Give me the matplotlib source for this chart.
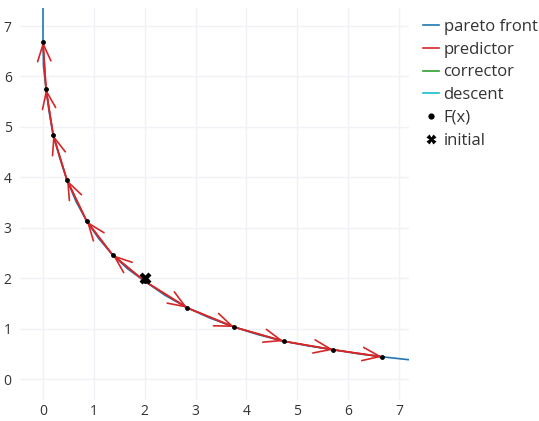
"""Predictor-corrector continuation along a Pareto front (plotly-like look)."""

import matplotlib
matplotlib.use("Agg")
import matplotlib.pyplot as plt

plt.rcParams["font.family"] = ["Open Sans", "DejaVu Sans"]

BLUE = "#1f77b4"
RED = "#d62728"
GREEN = "#2ca02c"
CYAN = "#17becf"
GRID = "#f0f2f7"
TEXT = "#333333"

# Pareto front
front_x = [0.0, 0.0, 0.01, 0.06, 0.12, 0.2, 0.33, 0.47, 0.65, 0.86, 1.1,
           1.37, 1.67, 2.0, 2.4, 2.84, 3.28, 3.76, 4.23, 4.73, 5.2, 5.71,
           6.2, 6.67, 7.4]
front_y = [8.0, 6.69, 6.2, 5.75, 5.3, 4.84, 4.38, 3.95, 3.52, 3.13, 2.78,
           2.46, 2.18, 1.94, 1.66, 1.41, 1.21, 1.03, 0.88, 0.75, 0.66, 0.58,
           0.5, 0.44, 0.36]

# F(x) iterates, walking up-left and down-right from the start
up_x = [2.0, 1.37, 0.86, 0.47, 0.2, 0.06, 0.0]
up_y = [1.94, 2.46, 3.13, 3.95, 4.84, 5.75, 6.69]
down_x = [2.0, 2.84, 3.76, 4.73, 5.71, 6.67]
down_y = [1.94, 1.41, 1.03, 0.75, 0.58, 0.44]

init_x = [2.0]
init_y = [2.0]

fig = plt.figure(figsize=(5.39, 4.21), dpi=100)
ax = fig.add_axes([20 / 539, 1 - 400 / 421, 389 / 539, 392 / 421])

ax.plot(front_x, front_y, color=BLUE, lw=1.2, label="pareto front")

for xs, ys, lab in [(up_x, up_y, "predictor"), (down_x, down_y, None)]:
    ax.plot(xs, ys, color=RED, lw=1.2, label=lab)
    for i in range(1, len(xs)):
        ax.annotate(
            "", xy=(xs[i], ys[i]), xytext=(xs[i - 1], ys[i - 1]),
            arrowprops=dict(arrowstyle="->,head_length=1.25,head_width=0.48",
                            color=RED, lw=1.2, shrinkA=0, shrinkB=0),
        )

ax.plot([], [], color=GREEN, lw=1.2, label="corrector")
ax.plot([], [], color=CYAN, lw=1.2, label="descent")

ax.plot(up_x + down_x[1:], up_y + down_y[1:], "o", color="black", ms=3.5,
        mec="none", label="F(x)", zorder=5)
ax.plot(init_x, init_y, "X", color="black", ms=8, mec="none",
        label="initial", zorder=6)

ax.set_xlim(-0.452, 7.197)
ax.set_ylim(-0.416, 7.357)
ax.set_xticks(range(8))
ax.set_yticks(range(8))
ax.grid(True, color=GRID, lw=1)
ax.set_axisbelow(True)
for spine in ax.spines.values():
    spine.set_visible(False)
ax.tick_params(length=0, labelsize=10, colors=TEXT)
ax.tick_params(axis="x", pad=3)
ax.tick_params(axis="y", pad=6)

leg = fig.legend(loc="upper left", bbox_to_anchor=(416 / 539, 1 - 12 / 421),
                 frameon=False, fontsize=12, handlelength=1.0,
                 handletextpad=0.25, labelspacing=0.41, borderaxespad=0,
                 labelcolor=TEXT)
leg.legend_handles[4].set_markersize(4.5)
leg.legend_handles[5].set_markersize(7)

fig.savefig("out.png", dpi=100)
